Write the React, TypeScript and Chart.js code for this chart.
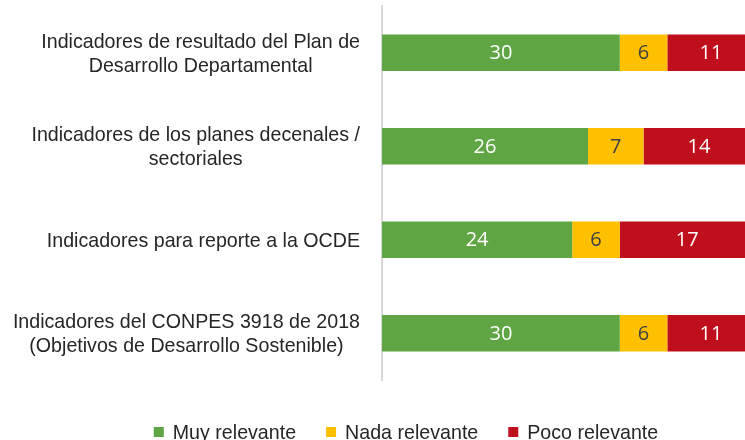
import React, { useEffect, useRef } from "react";
import { Chart, registerables } from "chart.js";

Chart.register(...registerables);

const categories: string[][] = [
  ["Indicadores de resultado del Plan de", "Desarrollo Departamental"],
  ["Indicadores de los planes decenales /", "sectoriales"],
  ["Indicadores para reporte a la OCDE"],
  ["Indicadores del CONPES 3918 de 2018", "(Objetivos de Desarrollo Sostenible)"],
];
const seriesNames = ["Muy relevante", "Nada relevante", "Poco relevante"];
const muyRelevante = [30, 26, 24, 30];
const nadaRelevante = [6, 7, 6, 6];
const pocoRelevante = [11, 14, 17, 11];
const seriesColors = ["#60A544", "#FFC000", "#C00F1C"];
const valueLabelColors = ["#FFFFFF", "#404040", "#FFFFFF"];

const TEXT_FONT = '"Liberation Sans", Arial, sans-serif';
const TEXT_SIZE = 21;
const NARROW = 0.935;
const VALUE_FONT = '"Open Sans", "Liberation Sans", sans-serif';

function narrowWidth(ctx: CanvasRenderingContext2D, t: string) {
  return ctx.measureText(t).width * NARROW;
}
function narrowText(ctx: CanvasRenderingContext2D, t: string, x: number, y: number) {
  ctx.save();
  ctx.translate(x, y);
  ctx.scale(NARROW, 1);
  ctx.fillText(t, 0, 0);
  ctx.restore();
}

const categoryLabelsPlugin = {
  id: "categoryLabels",
  afterDraw(chart: any) {
    const ctx = chart.ctx;
    const yScale = chart.scales.y;
    ctx.save();
    ctx.font = `${TEXT_SIZE}px ${TEXT_FONT}`;
    ctx.fillStyle = "#262626";
    ctx.textBaseline = "middle";
    ctx.textAlign = "center";
    const rightEdge = 360;
    const lineH = 24;
    categories.forEach((lines, i) => {
      const cy = yScale.getPixelForValue(i);
      const maxW = Math.max(...lines.map((l) => narrowWidth(ctx, l)));
      const cx = rightEdge - maxW / 2;
      const startY = cy - ((lines.length - 1) * lineH) / 2;
      lines.forEach((l, j) => narrowText(ctx, l, cx, startY + j * lineH + 1));
    });
    ctx.restore();
  },
};

const valueLabelsPlugin = {
  id: "valueLabels",
  afterDatasetsDraw(chart: any) {
    const ctx = chart.ctx;
    ctx.save();
    ctx.font = `20px ${VALUE_FONT}`;
    ctx.textAlign = "center";
    ctx.textBaseline = "middle";
    chart.data.datasets.forEach((ds: any, di: number) => {
      const meta = chart.getDatasetMeta(di);
      ctx.fillStyle = valueLabelColors[di];
      meta.data.forEach((el: any, i: number) => {
        const x = (el.x + el.base) / 2;
        ctx.fillText(String(ds.data[i]), x, el.y + 1);
      });
    });
    ctx.restore();
  },
};

const legendPlugin = {
  id: "customLegend",
  afterDraw(chart: any) {
    const ctx = chart.ctx;
    ctx.save();
    ctx.font = `${TEXT_SIZE}px ${TEXT_FONT}`;
    ctx.textBaseline = "middle";
    ctx.textAlign = "left";
    const box = 10;
    const gapText = 9;
    const gapItem = 30;
    const items = chart.data.datasets.map((ds: any) => ({
      text: ds.label,
      color: ds.backgroundColor,
      w: box + gapText + narrowWidth(ctx, ds.label),
    }));
    const total = items.reduce((s: number, it: any) => s + it.w, 0) + gapItem * (items.length - 1);
    let x = 406 - total / 2;
    const y = 432;
    items.forEach((it: any) => {
      ctx.fillStyle = it.color;
      ctx.fillRect(x, y - box / 2, box, box);
      ctx.fillStyle = "#262626";
      narrowText(ctx, it.text, x + box + gapText, y + 1);
      x += it.w + gapItem;
    });
    ctx.restore();
  },
};

export default function App() {
  const ref = useRef<HTMLCanvasElement>(null);
  useEffect(() => {
    if (!ref.current) return;
    const chart = new Chart(ref.current, {
      type: "bar",
      data: {
        labels: categories.map((c) => c.join(" ")),
        datasets: [muyRelevante, nadaRelevante, pocoRelevante].map((d, i) => ({
          label: seriesNames[i],
          data: d,
          backgroundColor: seriesColors[i],
          borderWidth: 0,
          barPercentage: 0.39,
          categoryPercentage: 1,
        })),
      },
      options: {
        indexAxis: "y",
        animation: false,
        responsive: false,
        devicePixelRatio: 1,
        layout: { padding: { left: 382, right: 0, top: 6, bottom: 60 } },
        plugins: {
          legend: { display: false },
          tooltip: { enabled: false },
        },
        scales: {
          x: {
            stacked: true,
            min: 0,
            max: 45.8,
            display: false,
          },
          y: {
            stacked: true,
            display: true,
            ticks: { display: false },
            grid: { display: false, drawTicks: false },
            border: { display: true, color: "#D9D9D9", width: 2 },
          },
        },
      },
      plugins: [categoryLabelsPlugin, valueLabelsPlugin, legendPlugin],
    });
    return () => chart.destroy();
  }, []);
  return (
    <div style={{ position: "fixed", left: 0, top: 0, width: 745, height: 440, background: "#fff" }}>
      <canvas ref={ref} width={745} height={440} />
    </div>
  );
}
